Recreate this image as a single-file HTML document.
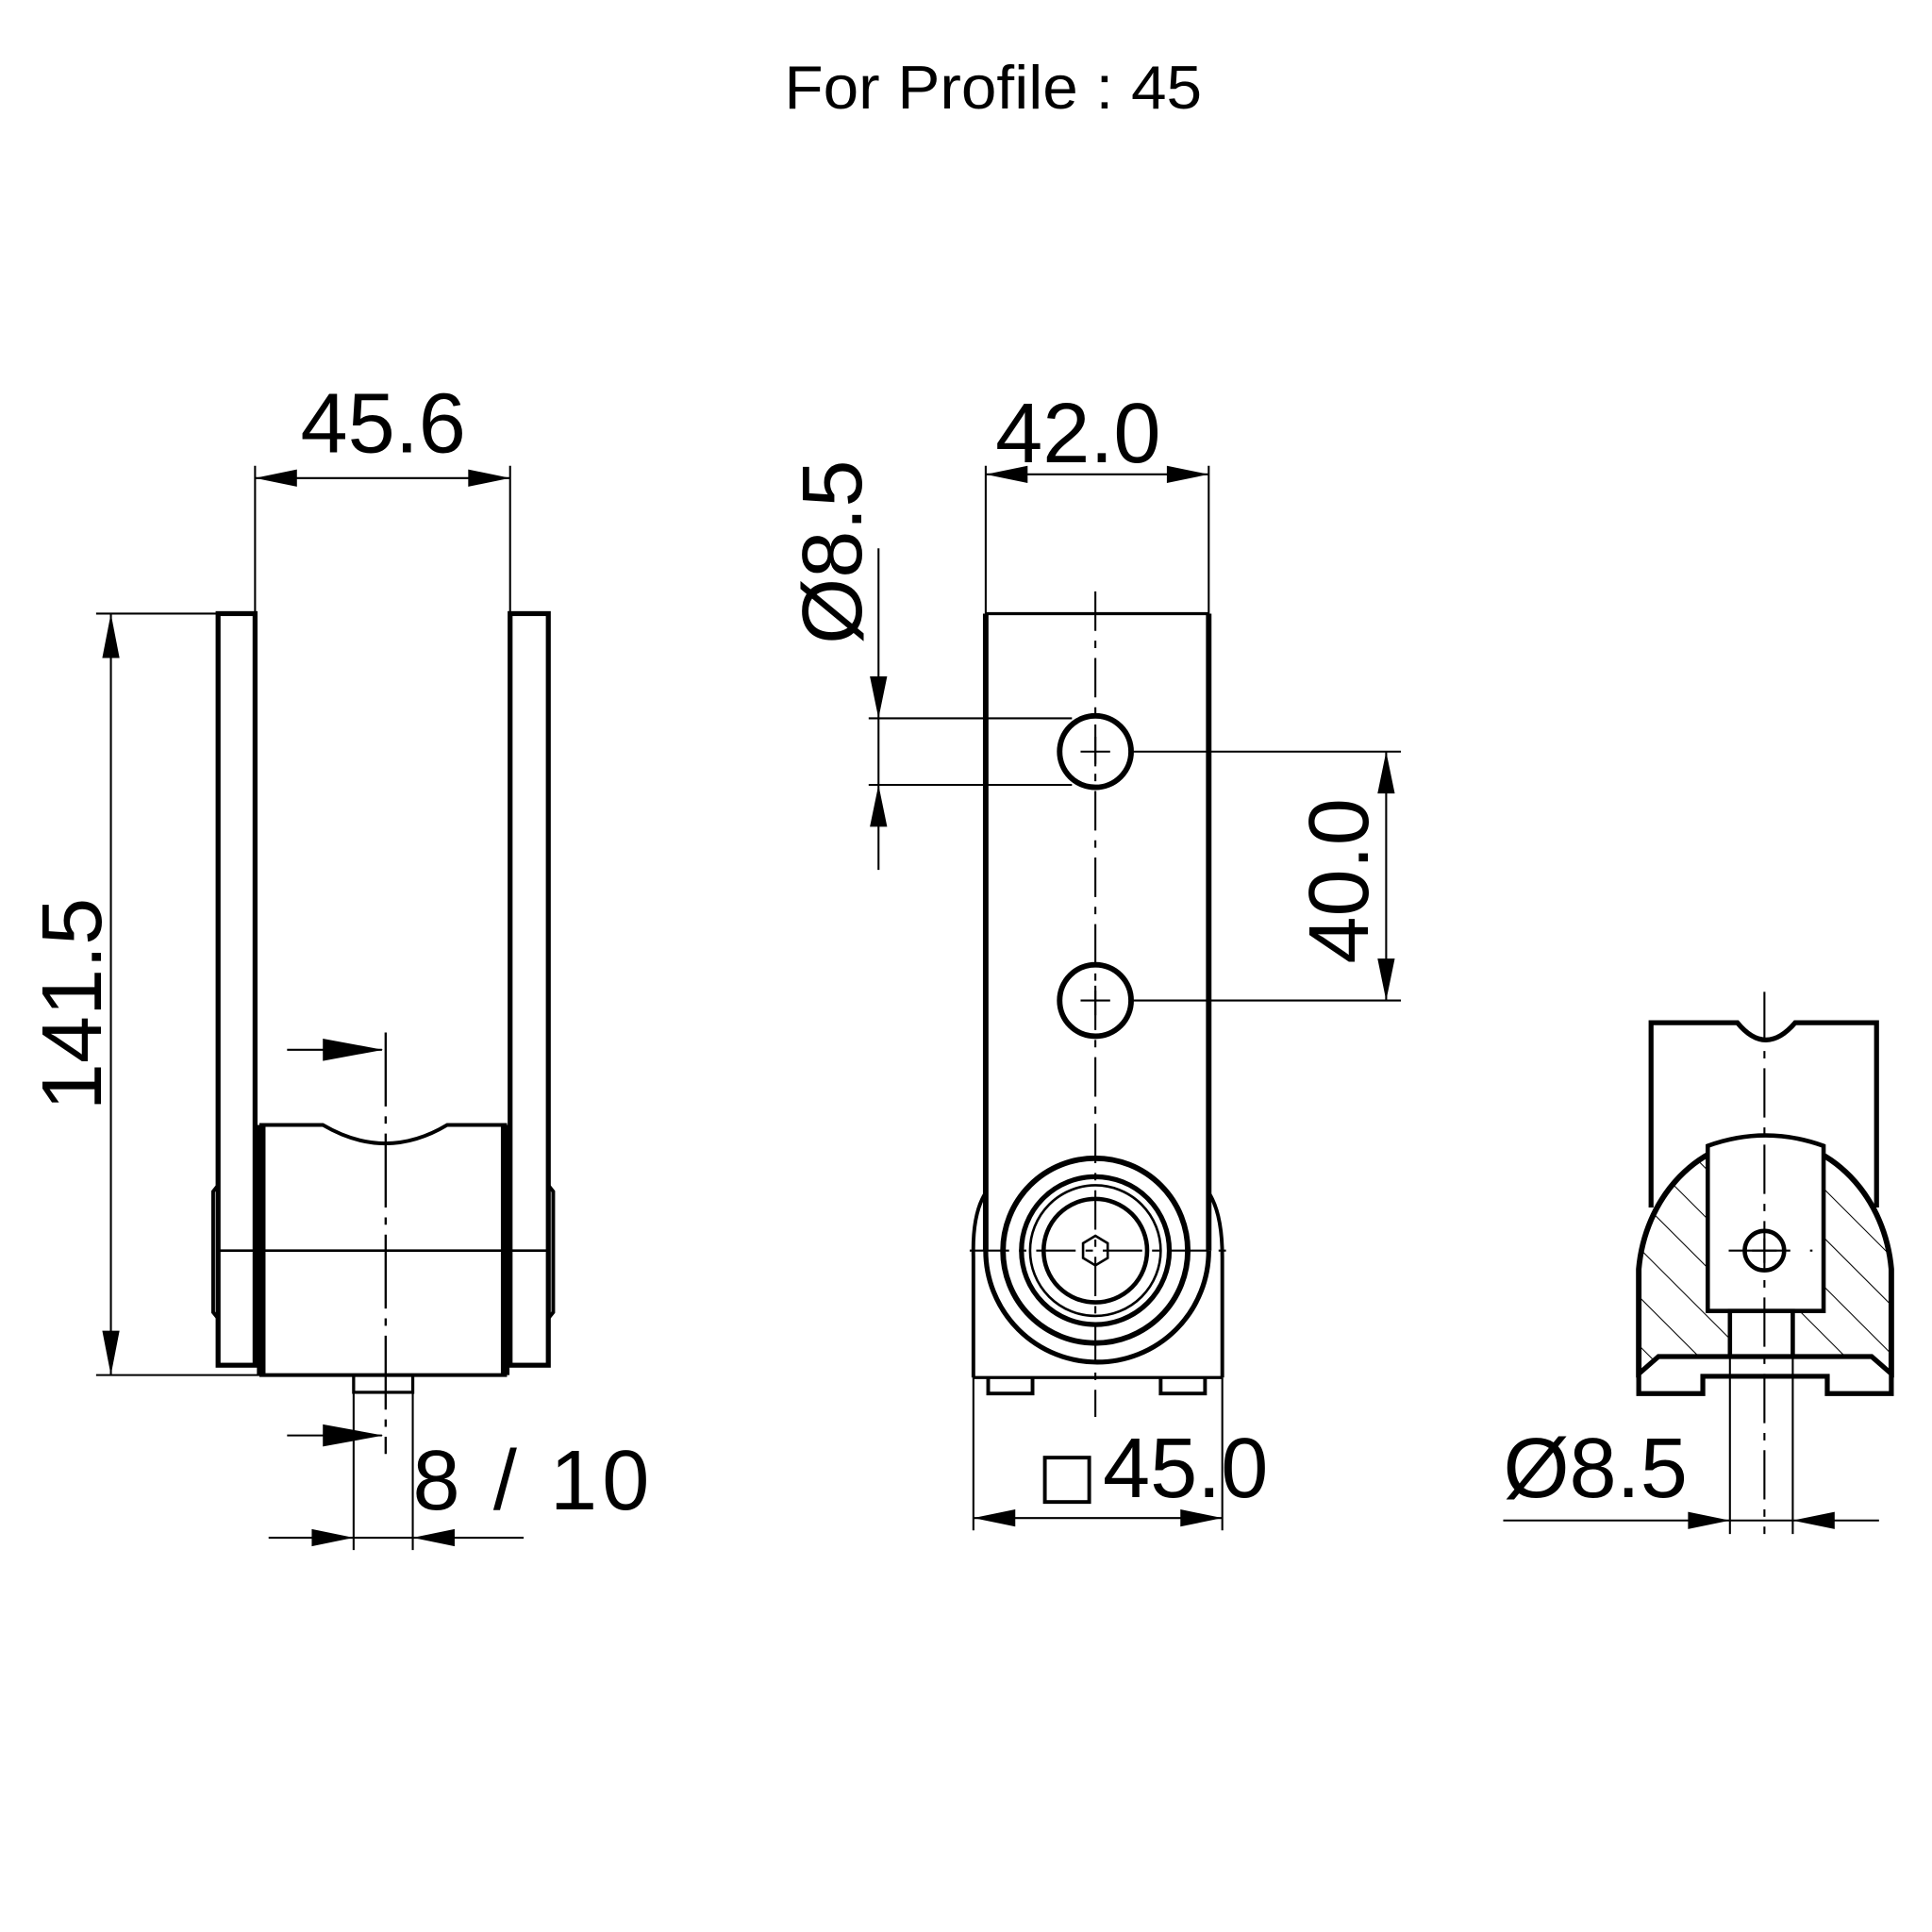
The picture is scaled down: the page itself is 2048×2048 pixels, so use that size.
<!DOCTYPE html>
<html><head><meta charset="utf-8"><style>html,body{margin:0;padding:0;background:#fff}svg{display:block}</style></head>
<body>
<svg width="2048" height="2048" viewBox="0 0 1568 1568" xmlns="http://www.w3.org/2000/svg">
<defs>
<pattern id="h" patternUnits="userSpaceOnUse" width="28" height="28" patternTransform="rotate(-45)">
<line x1="0" y1="0" x2="0" y2="28" stroke="#000" stroke-width="1.6"/>
</pattern>
</defs>
<rect width="1568" height="1568" fill="#fff"/>
<text x="806" y="88" font-family="Liberation Sans, sans-serif" font-size="50" text-anchor="middle" textLength="339" lengthAdjust="spacingAndGlyphs">For Profile : 45</text>

<g font-family="Liberation Sans, DejaVu Sans, sans-serif" font-size="69" fill="#000">
<text x="311" y="367" text-anchor="middle">45.6</text>
<text transform="translate(82,815) rotate(-90)" text-anchor="middle">141.5</text>
<text x="335" y="1225" textLength="192">8 / 10</text>
<text x="875" y="375" text-anchor="middle">42.0</text>
<text transform="translate(699,448) rotate(-90)" text-anchor="middle">Ø8.5</text>
<text transform="translate(1110,715) rotate(-90)" text-anchor="middle">40.0</text>
<text x="895" y="1215">45.0</text>
<text x="1220" y="1215">Ø8.5</text>
</g>

<!-- LEFT VIEW -->
<g fill="none" stroke="#000">
<rect x="177" y="498" width="30" height="610" stroke-width="4"/>
<rect x="414" y="498" width="31" height="610" stroke-width="4"/>
<path d="M177,962 L173,967 V1065 L177,1070 M445,962 L449,967 V1065 L445,1070" stroke-width="3"/>
<path d="M212,1116 V913 H262 Q313,943 363,913 H410 V1116 Z" stroke-width="3"/>
<line x1="212" y1="913" x2="212" y2="1116" stroke-width="7"/>
<line x1="410" y1="913" x2="410" y2="1116" stroke-width="7"/>
<line x1="177" y1="1015" x2="445" y2="1015" stroke-width="2"/>
<rect x="287" y="1116" width="48" height="14" stroke-width="2.5"/>
<line x1="313" y1="838" x2="313" y2="1180" stroke-width="1.8" stroke-dasharray="60,8,6,8"/>
<g stroke-width="1.6">
<line x1="207" y1="378" x2="207" y2="498"/><line x1="414" y1="378" x2="414" y2="498"/>
<line x1="207" y1="388" x2="414" y2="388"/>
<line x1="78" y1="498" x2="177" y2="498"/><line x1="78" y1="1116" x2="212" y2="1116"/>
<line x1="90" y1="498" x2="90" y2="1116"/>
<line x1="233" y1="852" x2="310" y2="852"/><line x1="233" y1="1165" x2="310" y2="1165"/>
<line x1="218" y1="1248" x2="425" y2="1248"/>
<line x1="287" y1="1130" x2="287" y2="1258"/><line x1="335" y1="1130" x2="335" y2="1258"/>
</g>
</g>
<g fill="#000">
<polygon points="207,388 241,381 241,395"/><polygon points="414,388 380,381 380,395"/>
<polygon points="90,498 83,534 97,534"/><polygon points="90,1116 83,1080 97,1080"/>
<polygon points="311,852 262,843 262,861"/><polygon points="311,1165 262,1156 262,1174"/>
<polygon points="287,1248 253,1241 253,1255"/><polygon points="335,1248 369,1241 369,1255"/>
</g>

<!-- MIDDLE VIEW -->
<g fill="none" stroke="#000">
<line x1="800" y1="498" x2="981" y2="498" stroke-width="2.5"/>
<line x1="800" y1="498" x2="800" y2="1015" stroke-width="4.5"/>
<line x1="981" y1="498" x2="981" y2="1015" stroke-width="4.5"/>
<path d="M800,968 Q789,985 790,1020 V1118 M981,968 Q992,985 992,1020 V1118" stroke-width="3"/>
<path d="M800,1015 A89,89 0 0 0 981,1015" stroke-width="4"/>
<line x1="790" y1="1118" x2="992" y2="1118" stroke-width="2.5"/>
<path d="M802,1118 V1131 H838 V1118 M942,1118 V1131 H978 V1118" stroke-width="3"/>
<circle cx="889" cy="610" r="29" stroke-width="4.5"/>
<circle cx="889" cy="812" r="29" stroke-width="4.5"/>
<path d="M877,610 H901 M889,598 V622 M877,812 H901 M889,800 V824" stroke-width="1.6"/>
<circle cx="889" cy="1015" r="75" stroke-width="4.5"/>
<circle cx="889" cy="1015" r="60" stroke-width="4"/>
<circle cx="889" cy="1015" r="53" stroke-width="2"/>
<circle cx="889" cy="1015" r="42" stroke-width="3.5"/>
<polygon points="889,1003 899,1009 899,1021 889,1027 879,1021 879,1009" stroke-width="2"/>
<line x1="889" y1="480" x2="889" y2="1150" stroke-width="1.6" stroke-dasharray="32,8,6,8"/>
<line x1="787" y1="1015" x2="995" y2="1015" stroke-width="1.6" stroke-dasharray="32,8,6,8"/>
<g stroke-width="1.6">
<line x1="800" y1="378" x2="800" y2="498"/><line x1="981" y1="378" x2="981" y2="498"/>
<line x1="800" y1="385" x2="981" y2="385"/>
<line x1="705" y1="583" x2="870" y2="583"/><line x1="705" y1="637" x2="870" y2="637"/>
<line x1="713" y1="445" x2="713" y2="706"/>
<line x1="920" y1="610" x2="1137" y2="610"/><line x1="920" y1="812" x2="1137" y2="812"/>
<line x1="1125" y1="610" x2="1125" y2="812"/>
<line x1="790" y1="1118" x2="790" y2="1242"/><line x1="992" y1="1118" x2="992" y2="1242"/>
<line x1="790" y1="1232" x2="992" y2="1232"/>
</g>
<rect x="848" y="1183" width="36" height="36" stroke-width="3"/>
</g>
<g fill="#000">
<polygon points="800,385 834,378 834,392"/><polygon points="981,385 947,378 947,392"/>
<polygon points="713,583 706,549 720,549"/><polygon points="713,637 706,671 720,671"/>
<polygon points="1125,610 1118,644 1132,644"/><polygon points="1125,812 1118,778 1132,778"/>
<polygon points="790,1232 824,1225 824,1239"/><polygon points="992,1232 958,1225 958,1239"/>
</g>

<!-- RIGHT VIEW -->
<g stroke="#000">
<path d="M1340,980 V830 H1410 Q1433,858 1457,830 H1523 V980" fill="none" stroke-width="4"/>
<path d="M1330,1115 V1030 A103,117 0 0 1 1535,1030 V1115 Z" fill="url(#h)" stroke="none"/>
<path d="M1330,1118 V1030 A103,117 0 0 1 1535,1030 V1118" fill="none" stroke-width="4.5"/>
<path d="M1386,930 Q1433,913 1480,930 V1064 H1386 Z" fill="#fff" stroke-width="3.5"/>
<rect x="1404" y="1064" width="51" height="37" fill="#fff" stroke-width="3.5"/>
<path d="M1330,1115 L1346,1101 H1519 L1535,1115 V1131 H1483 V1117 H1382 V1131 H1330 Z" fill="#fff" stroke-width="4"/>
<circle cx="1432" cy="1015" r="16" fill="none" stroke-width="3.5"/>
<path d="M1422,1015 H1442 M1432,1005 V1025" fill="none" stroke-width="1.6"/>
<line x1="1432" y1="805" x2="1432" y2="1245" stroke-width="1.6" stroke-dasharray="40,8,6,8"/>
<line x1="1385" y1="1015" x2="1480" y2="1015" stroke-width="1.6" stroke-dasharray="2,16,50,16"/>
<g stroke-width="1.6">
<line x1="1404" y1="1101" x2="1404" y2="1245"/><line x1="1455" y1="1101" x2="1455" y2="1245"/>
<line x1="1220" y1="1234" x2="1525" y2="1234"/>
</g>
</g>
<g fill="#000">
<polygon points="1404,1234 1370,1227 1370,1241"/><polygon points="1455,1234 1489,1227 1489,1241"/>
</g>
</svg>
</body></html>
